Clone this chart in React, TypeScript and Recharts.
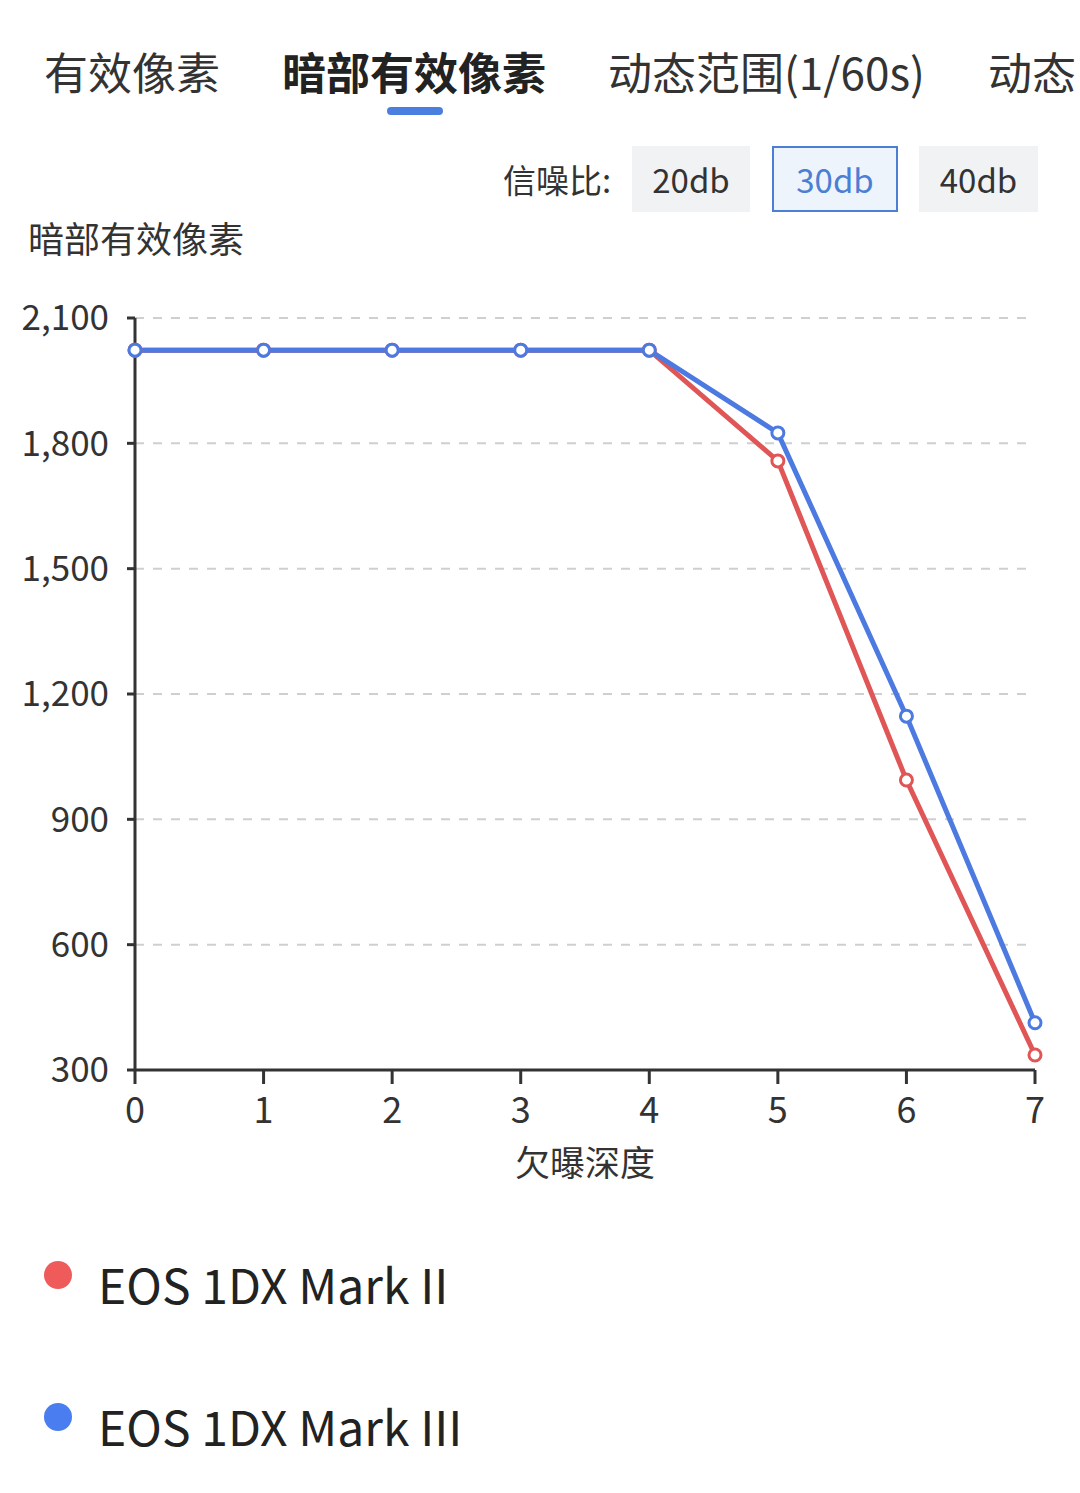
import React from 'react';
import { LineChart, Line, XAxis, YAxis, CartesianGrid, Label } from 'recharts';

// Tabs across the top
const tabs = ['有效像素', '暗部有效像素', '动态范围(1/60s)', '动态'];
const tabX = [44, 282, 608, 988];
const activeTab = 1;

// Signal-to-noise buttons
const snrOptions = ['20db', '30db', '40db'];
const snrX = [632, 772, 919];
const snrW = [118, 126, 119];
const activeSnr = 1;

// Underexposure depth (x) and series values
const depth = [0, 1, 2, 3, 4, 5, 6, 7];
const markII = [2023, 2023, 2023, 2023, 2023, 1758, 994, 336];
const markIII = [2023, 2023, 2023, 2023, 2023, 1825, 1147, 413];
const yTicks = [300, 600, 900, 1200, 1500, 1800, 2100];

const seriesNames = ['EOS 1DX Mark II', 'EOS 1DX Mark III'];
const RED = '#e05656';
const BLUE = '#4c7ae0';

const data = depth.map((d, i) => ({ depth: d, markII: markII[i], markIII: markIII[i] }));

const FONT = '"Noto Sans CJK SC", "Noto Sans", sans-serif';

export default function App() {
  const fmt = (v: number) => v.toLocaleString('en-US');

  return (
    <div
      style={{
        position: 'absolute',
        left: 0,
        top: 0,
        width: 1080,
        height: 1493,
        background: '#fff',
        fontFamily: FONT,
        color: '#333',
        overflow: 'hidden',
      }}
    >
      {/* tabs */}
      {tabs.map((t, i) => (
        <div
          key={t}
          style={{
            position: 'absolute',
            left: tabX[i],
            top: 40,
            fontSize: 44,
            lineHeight: '62px',
            fontWeight: i === activeTab ? 700 : 400,
            color: i === activeTab ? '#222' : '#333',
            whiteSpace: 'nowrap',
          }}
        >
          {t}
        </div>
      ))}
      <div
        style={{
          position: 'absolute',
          left: 387,
          top: 107,
          width: 56,
          height: 8,
          borderRadius: 4,
          background: '#4a7fe0',
        }}
      />

      {/* SNR selector */}
      <div style={{ position: 'absolute', left: 503, top: 156, fontSize: 33, lineHeight: '46px' }}>
        信噪比:
      </div>
      {snrOptions.map((s, i) => {
        const active = i === activeSnr;
        return (
          <div
            key={s}
            style={{
              position: 'absolute',
              left: snrX[i],
              top: 146,
              width: snrW[i],
              height: 66,
              boxSizing: 'border-box',
              background: active ? '#eef4fc' : '#f1f2f4',
              border: active ? '2px solid #4a7fd4' : 'none',
              color: active ? '#4a7fd4' : '#333',
              fontSize: 33,
              display: 'flex',
              alignItems: 'center',
              justifyContent: 'center',
            }}
          >
            {s}
          </div>
        );
      })}

      {/* y axis title */}
      <div style={{ position: 'absolute', left: 28, top: 212, fontSize: 36, lineHeight: '50px' }}>
        暗部有效像素
      </div>

      <div style={{ position: 'absolute', left: 0, top: 280 }}>
        <LineChart
          width={1080}
          height={920}
          data={data}
          margin={{ top: 38, right: 45, left: 0, bottom: 0 }}
        >
          <CartesianGrid
            vertical={false}
            stroke="#cfcfcf"
            strokeWidth={2}
            strokeDasharray="9 9"
          />
          <XAxis
            dataKey="depth"
            type="number"
            domain={[0, 7]}
            ticks={depth}
            height={130}
            stroke="#333"
            strokeWidth={3}
            tickSize={14}
            tickMargin={13}
            tick={{ fill: '#333', fontSize: 36, fontFamily: FONT }}
          >
            <Label
              value="欠曝深度"
              position="insideBottom"
              offset={24}
              fill="#333"
              fontSize={35}
              fontFamily={FONT}
            />
          </XAxis>
          <YAxis
            type="number"
            domain={[300, 2100]}
            ticks={yTicks}
            width={135}
            stroke="#333"
            strokeWidth={3}
            tickSize={8}
            tickMargin={18}
            tickFormatter={fmt}
            tick={{ fill: '#333', fontSize: 35, fontFamily: FONT }}
          />
          <Line
            type="linear"
            dataKey="markII"
            name={seriesNames[0]}
            stroke={RED}
            strokeWidth={5}
            dot={{ r: 6, fill: '#fff', stroke: RED, strokeWidth: 3 }}
            isAnimationActive={false}
          />
          <Line
            type="linear"
            dataKey="markIII"
            name={seriesNames[1]}
            stroke={BLUE}
            strokeWidth={5}
            dot={{ r: 6, fill: '#fff', stroke: BLUE, strokeWidth: 3 }}
            isAnimationActive={false}
          />
        </LineChart>
      </div>

      {/* legend */}
      {seriesNames.map((n, i) => (
        <div
          key={n}
          style={{
            position: 'absolute',
            left: 44,
            top: 1250 + i * 142,
            display: 'flex',
            alignItems: 'center',
          }}
        >
          <div
            style={{
              width: 28,
              height: 28,
              borderRadius: 14,
              background: i === 0 ? '#ef5a5a' : '#4a7ef0',
              marginRight: 26,
              marginTop: -16,
            }}
          />
          <span style={{ fontSize: 48, lineHeight: '66px', color: '#222' }}>{n}</span>
        </div>
      ))}
    </div>
  );
}
